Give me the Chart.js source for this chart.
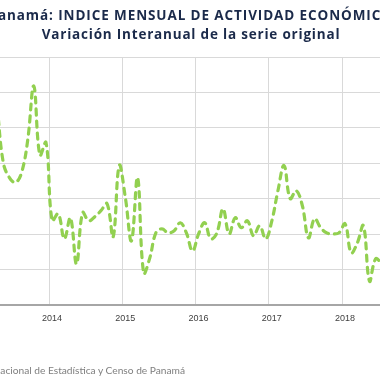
<!DOCTYPE html>
<html><head><meta charset="utf-8">
<script src="https://cdn.jsdelivr.net/npm/chart.js@4"></script>
<style>
html,body{margin:0;padding:0;background:#fff;}
#wrap{position:relative;width:380px;height:380px;overflow:hidden;background:#fff;}
#c{position:absolute;left:0;top:0;width:380px;height:380px;}
.t{position:absolute;left:0;width:380px;display:flex;justify-content:center;white-space:nowrap;font-family:"Open Sans";font-weight:700;color:#1b2a4a;line-height:1;font-size:13.5px;}
#t1{top:9px;letter-spacing:0.9px;}
#t2{top:28px;letter-spacing:0.8px;left:1px;}
#src{position:absolute;top:365px;left:0;white-space:nowrap;font-family:Lato;font-size:10.2px;color:#7f7f7f;line-height:1;}
</style></head>
<body>
<div id="wrap">
<canvas id="c" width="380" height="380"></canvas>
<div class="t" id="t1"><span>Panamá: INDICE MENSUAL DE ACTIVIDAD ECONÓMICA</span></div>
<div class="t" id="t2"><span>Variación Interanual de la serie original</span></div>
<div id="src"><span id="pre">Fuente: Instituto N</span>acional de Estadística y Censo de Panamá</div>
</div>
<script>
// Months (Apr 2013 .. Jul 2018)
const months = [
 'abr-13','may-13','jun-13','jul-13','ago-13','sep-13','oct-13','nov-13','dic-13',
 'ene-14','feb-14','mar-14','abr-14','may-14','jun-14','jul-14','ago-14','sep-14','oct-14','nov-14','dic-14',
 'ene-15','feb-15','mar-15','abr-15','may-15','jun-15','jul-15','ago-15','sep-15','oct-15','nov-15','dic-15',
 'ene-16','feb-16','mar-16','abr-16','may-16','jun-16','jul-16','ago-16','sep-16','oct-16','nov-16','dic-16',
 'ene-17','feb-17','mar-17','abr-17','may-17','jun-17','jul-17','ago-17','sep-17','oct-17','nov-17','dic-17',
 'ene-18','feb-18','mar-18','abr-18','may-18','jun-18','jul-18'
];
// Variación interanual (%)
const values = [
 11.2, 8.05, 7.2, 6.92, 7.48, 9.3, 12.36, 8.45, 9.18,
 4.76, 5.16, 3.74, 4.93, 2.32, 5.22, 4.76, 4.99, 5.33, 5.73, 3.85, 7.88,
 6.07, 3.63, 7.2, 1.81, 2.66, 4.08, 4.31, 4.08, 4.2, 4.65, 4.08, 3.06,
 4.02, 4.65, 3.74, 4.08, 5.44, 4.02, 4.93, 4.37, 4.76, 3.91, 4.48, 3.74,
 4.76, 6.46, 7.88, 6.01, 6.46, 5.61, 3.8, 4.88, 4.37, 4.08, 4.02, 4.08,
 4.59, 2.95, 3.51, 4.48, 1.36, 2.61, 2.38
];
// Year boundaries (between Dec and Jan) and their labels
const yearBounds = [8.5, 20.5, 32.5, 44.5, 56.5];
const yearLabels = ['2014', '2015', '2016', '2017', '2018'];

const pre = document.getElementById('pre');
document.getElementById('src').style.left = (-pre.offsetWidth) + 'px';

new Chart(document.getElementById('c'), {
  type: 'line',
  data: {
    datasets: [{
      label: 'IMAE',
      data: months.map((m, j) => ({x: j, y: values[j]})),
      borderColor: '#92d050',
      borderWidth: 3.2,
      borderDash: [6, 6],
      borderCapStyle: 'round',
      pointRadius: 0,
      tension: 0.4,
      fill: false
    }]
  },
  options: {
    responsive: false,
    animation: false,
    layout: {padding: {top: 57, bottom: 48, left: 0, right: 0}},
    plugins: {legend: {display: false}, title: {display: false}, tooltip: {enabled: false}},
    scales: {
      x: {
        type: 'linear',
        min: 0.464,
        max: 62.72,
        afterBuildTicks: (s) => { s.ticks = yearBounds.map(v => ({value: v})); },
        ticks: {
          callback: (v, i) => yearLabels[i],
          labelOffset: 3,
          padding: 8,
          autoSkip: false,
          maxRotation: 0,
          color: '#404040',
          font: {family: 'Liberation Sans', size: 9}
        },
        grid: {color: '#d9d9d9', drawTicks: false, lineWidth: 1},
        border: {color: '#a6a6a6', width: 2}
      },
      y: {
        min: 0,
        max: 14,
        ticks: {stepSize: 2, display: false},
        grid: {color: '#d9d9d9', drawTicks: false, lineWidth: 1},
        border: {display: false}
      }
    }
  }
});
</script>
</body></html>
